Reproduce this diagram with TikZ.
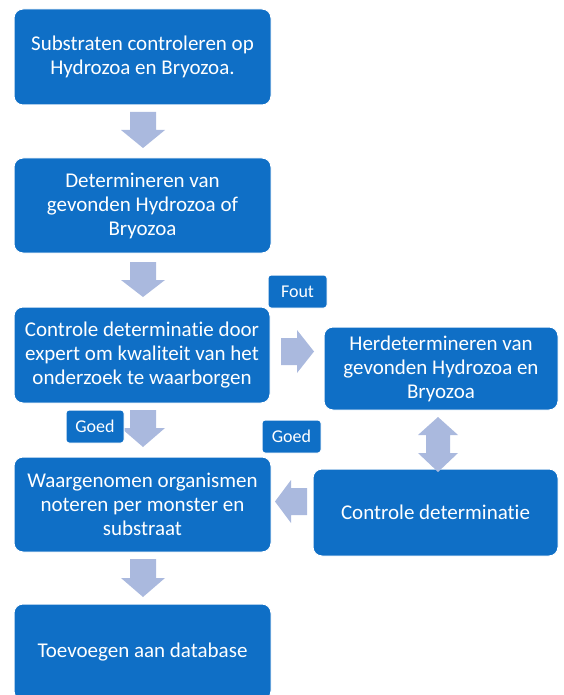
\documentclass[tikz,border=0pt]{standalone}
\usepackage{fontspec}
\setmainfont{Carlito}[Ligatures={NoCommon,NoRequired,NoContextual}]
\definecolor{boxblue}{RGB}{15,111,198}
\definecolor{arrowblue}{RGB}{170,185,222}
\tikzset{
  box/.style={rectangle, rounded corners=9pt, fill=boxblue, draw=white, line width=1pt,
    text=white, align=center, inner sep=0pt, font=\fontsize{21}{24}\selectfont},
  tag/.style={rectangle, rounded corners=3pt, fill=boxblue, draw=white, line width=1pt,
    text=white, align=center, inner sep=0pt, minimum width=59pt, minimum height=33pt,
    font=\fontsize{18}{21}\selectfont},
  blockarrow/.style={fill=arrowblue, draw=none}
}
\begin{document}
\begin{tikzpicture}[x=1pt,y=-1pt]
\useasboundingbox (0,0) rectangle (563,695);
\clip (0,0) rectangle (563,695);

% down arrows (cx, top, headstart, tip)
\newcommand{\downarrowshape}[4]{%
  \fill[blockarrow] (#1-13,#2) -- (#1+13,#2) -- (#1+13,#3) -- (#1+22,#3) -- (#1,#4)
    -- (#1-22,#3) -- (#1-13,#3) -- cycle;}

\node[box, minimum width=257pt, minimum height=96pt] (b1) at (142.5,57)
  {Substraten controleren op\\Hydrozoa en Bryozoa.};
\node[box, minimum width=257pt, minimum height=95pt] (b2) at (142.5,205.5)
  {Determineren van\\gevonden Hydrozoa of\\Bryozoa};
\node[box, minimum width=256pt, minimum height=96pt] (b3) at (142,355)
  {Controle determinatie door\\expert om kwaliteit van het\\onderzoek te waarborgen};
\node[box, minimum width=234pt, minimum height=83pt] (b3r) at (441,368.5)
  {Herdetermineren van\\gevonden Hydrozoa en\\Bryozoa};
\node[box, minimum width=257pt, minimum height=95pt] (b4) at (142.5,504.5)
  {Waargenomen organismen\\noteren per monster en\\substraat};
\node[box, minimum width=245pt, minimum height=87pt] (b5) at (435.5,512.5)
  {Controle determinatie};
\node[box, minimum width=257pt, minimum height=96pt] (b6) at (142.5,652)
  {Toevoegen aan database};

\downarrowshape{143}{112}{130}{148}
\downarrowshape{143}{262}{280}{297}
\downarrowshape{143}{410}{428}{447}
\downarrowshape{143}{559}{578}{597}

% right arrow b3 -> b3r
\fill[blockarrow] (281,338) -- (297,338) -- (297,330) -- (314,351.5) -- (297,373)
  -- (297,365) -- (281,365) -- cycle;
% left arrow b5 -> b4
\fill[blockarrow] (307,488) -- (291,488) -- (291,480) -- (275,501.5) -- (291,523)
  -- (291,515) -- (307,515) -- cycle;
% double arrow b3r <-> b5
\fill[blockarrow] (438,417) -- (458,435) -- (450,435) -- (450,453) -- (458,453)
  -- (438,472) -- (418,453) -- (426,453) -- (426,435) -- (418,435) -- cycle;

\node[tag] (fout) at (297.5,291.5) {Fout};
\node[tag, minimum width=58pt] (goed1) at (95,426.5) {Goed};
\node[tag] (goed2) at (291.5,436.5) {Goed};
\end{tikzpicture}
\end{document}
